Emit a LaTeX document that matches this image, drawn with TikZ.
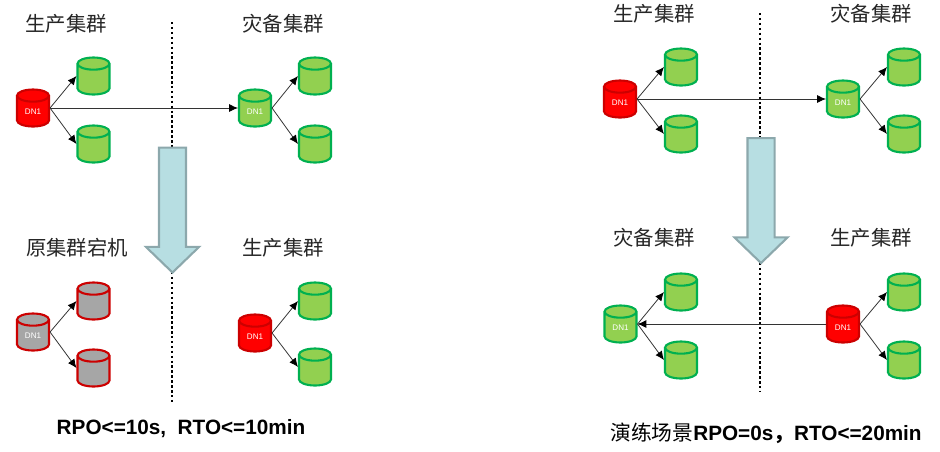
\documentclass[tikz,border=0pt]{standalone}
\usepackage{fontspec}
\setmainfont{Liberation Sans}
\newfontfamily\cjkfont{Noto Sans CJK SC}
\usetikzlibrary{shapes.geometric, shapes.arrows, arrows.meta}
\definecolor{dbgreen}{RGB}{146, 208, 80}
\definecolor{dbgreenline}{RGB}{0, 176, 80}
\definecolor{dbred}{RGB}{255, 0, 0}
\definecolor{dbredline}{RGB}{204, 0, 0}
\definecolor{dbgrey}{RGB}{166, 166, 166}
\definecolor{movefill}{RGB}{183, 222, 226}
\definecolor{moveline}{RGB}{140, 168, 172}
\tikzset{
  dbbase/.style={cylinder, shape border rotate=90, shape aspect=0.38, draw=#1, line width=1.2pt,
                 text width=0.64cm, align=center, minimum height=0.74cm, inner sep=0pt, anchor=shape center,
                 cylinder uses custom fill, text=white, font=\fontsize{4.6}{5}\selectfont},
  greendb/.style={dbbase=dbgreenline, cylinder body fill=dbgreen, cylinder end fill=dbgreen},
  reddb/.style={dbbase=dbredline, cylinder body fill=dbred, cylinder end fill=dbred},
  greydb/.style={dbbase=dbredline, cylinder body fill=dbgrey, cylinder end fill=dbgrey},
  replica/.style={-{Latex[length=5pt,width=4.5pt,black]}, line width=0.45pt, color=black!80},
  divider/.style={line width=1.5pt, dash pattern=on 1.4pt off 1.4pt},
  movearrow/.style={single arrow, draw=moveline, fill=movefill, line width=1.2pt, inner sep=0pt,
                    shape border rotate=270, text width=0.50cm, minimum height=2.50cm, minimum width=1.04cm,
                    single arrow head extend=0.26cm, single arrow tip angle=92},
  title/.style={font=\cjkfont\fontsize{11.6}{12}\selectfont, color=black!85, inner sep=0pt},
  result/.style={font=\bfseries\fontsize{11.8}{12}\selectfont, inner sep=0pt},
}
\begin{document}
\begin{tikzpicture}[x=0.02cm, y=-0.02cm]
  \useasboundingbox (0,0) rectangle (940,451);

  % left panel, before
  \node[title] (t1) at (66,24) {生产集群};
  \node[title] (t2) at (283,24) {灾备集群};
  \draw[divider] (172,22) coordinate (c1) -- (172,272) coordinate (c2);
  \node[reddb] (a1) at (33,108) {DN1};
  \node[greendb] (a2) at (93.5,76) {};
  \node[greendb] (a3) at (93.5,144) {};
  \node[greendb] (b1) at (255,108) {DN1};
  \node[greendb] (b2) at (315,76) {};
  \node[greendb] (b3) at (315,144) {};
  \draw[replica] (a1.east |- a1.shape center) -- (a2.west |- a2.shape center);
  \draw[replica] (a1.east |- a1.shape center) -- (a3.west |- a3.shape center);
  \draw[replica] (b1.east |- b1.shape center) -- (b2.west |- b2.shape center);
  \draw[replica] (b1.east |- b1.shape center) -- (b3.west |- b3.shape center);
  \draw[replica] (a1.east |- a1.shape center) -- (b1.west |- b1.shape center);

  % left panel, after
  \draw[divider] (172,272) coordinate (c3) -- (172,402) coordinate (c4);
  \node[movearrow] (m1) at (172.5,203.5) {};
  \node[title] (t3) at (77,248) {原集群宕机};
  \node[title] (t4) at (283,248) {生产集群};
  \node[greydb] (d1) at (33,332) {DN1};
  \node[greydb] (d2) at (93.5,301) {};
  \node[greydb] (d3) at (93.5,368) {};
  \node[reddb] (e1) at (255,333) {DN1};
  \node[greendb] (e2) at (315,301) {};
  \node[greendb] (e3) at (315,367) {};
  \draw[replica] (d1.east |- d1.shape center) -- (d2.west |- d2.shape center);
  \draw[replica] (d1.east |- d1.shape center) -- (d3.west |- d3.shape center);
  \draw[replica] (e1.east |- e1.shape center) -- (e2.west |- e2.shape center);
  \draw[replica] (e1.east |- e1.shape center) -- (e3.west |- e3.shape center);
  \node[result] (r1) at (181,429) {RPO<=10s,\ \ RTO<=10min};

  % right panel, before
  \node[title] (t5) at (654,14) {生产集群};
  \node[title] (t6) at (871,14) {灾备集群};
  \draw[divider] (760,13) coordinate (c5) -- (760,263) coordinate (c6);
  \node[reddb] (f1) at (620,99) {DN1};
  \node[greendb] (f2) at (681,67) {};
  \node[greendb] (f3) at (681,134) {};
  \node[greendb] (g1) at (843,99) {DN1};
  \node[greendb] (g2) at (904,67) {};
  \node[greendb] (g3) at (904,134) {};
  \draw[replica] (f1.east |- f1.shape center) -- (f2.west |- f2.shape center);
  \draw[replica] (f1.east |- f1.shape center) -- (f3.west |- f3.shape center);
  \draw[replica] (g1.east |- g1.shape center) -- (g2.west |- g2.shape center);
  \draw[replica] (g1.east |- g1.shape center) -- (g3.west |- g3.shape center);
  \draw[replica] (f1.east |- f1.shape center) -- (g1.west |- g1.shape center);

  % right panel, after
  \draw[divider] (760,263) coordinate (c7) -- (760,392) coordinate (c8);
  \node[movearrow] (m2) at (761,194) {};
  \node[title] (t7) at (654,238) {灾备集群};
  \node[title] (t8) at (871,238) {生产集群};
  \node[greendb] (h1) at (620.5,324) {DN1};
  \node[greendb] (h2) at (681,292) {};
  \node[greendb] (h3) at (681,360) {};
  \node[reddb] (k1) at (843,324) {DN1};
  \node[greendb] (k2) at (904,292) {};
  \node[greendb] (k3) at (904,360) {};
  \draw[replica] (h1.east |- h1.shape center) -- (h2.west |- h2.shape center);
  \draw[replica] (h1.east |- h1.shape center) -- (h3.west |- h3.shape center);
  \draw[replica] (k1.east |- k1.shape center) -- (k2.west |- k2.shape center);
  \draw[replica] (k1.east |- k1.shape center) -- (k3.west |- k3.shape center);
  \draw[replica] (k1.west |- k1.shape center) -- (h1.east |- h1.shape center);
  \node[result] (r2) at (766,433) {{\cjkfont\mdseries 演练场景}RPO=0s{\cjkfont ，}RTO<=20min};
\end{tikzpicture}
\end{document}
